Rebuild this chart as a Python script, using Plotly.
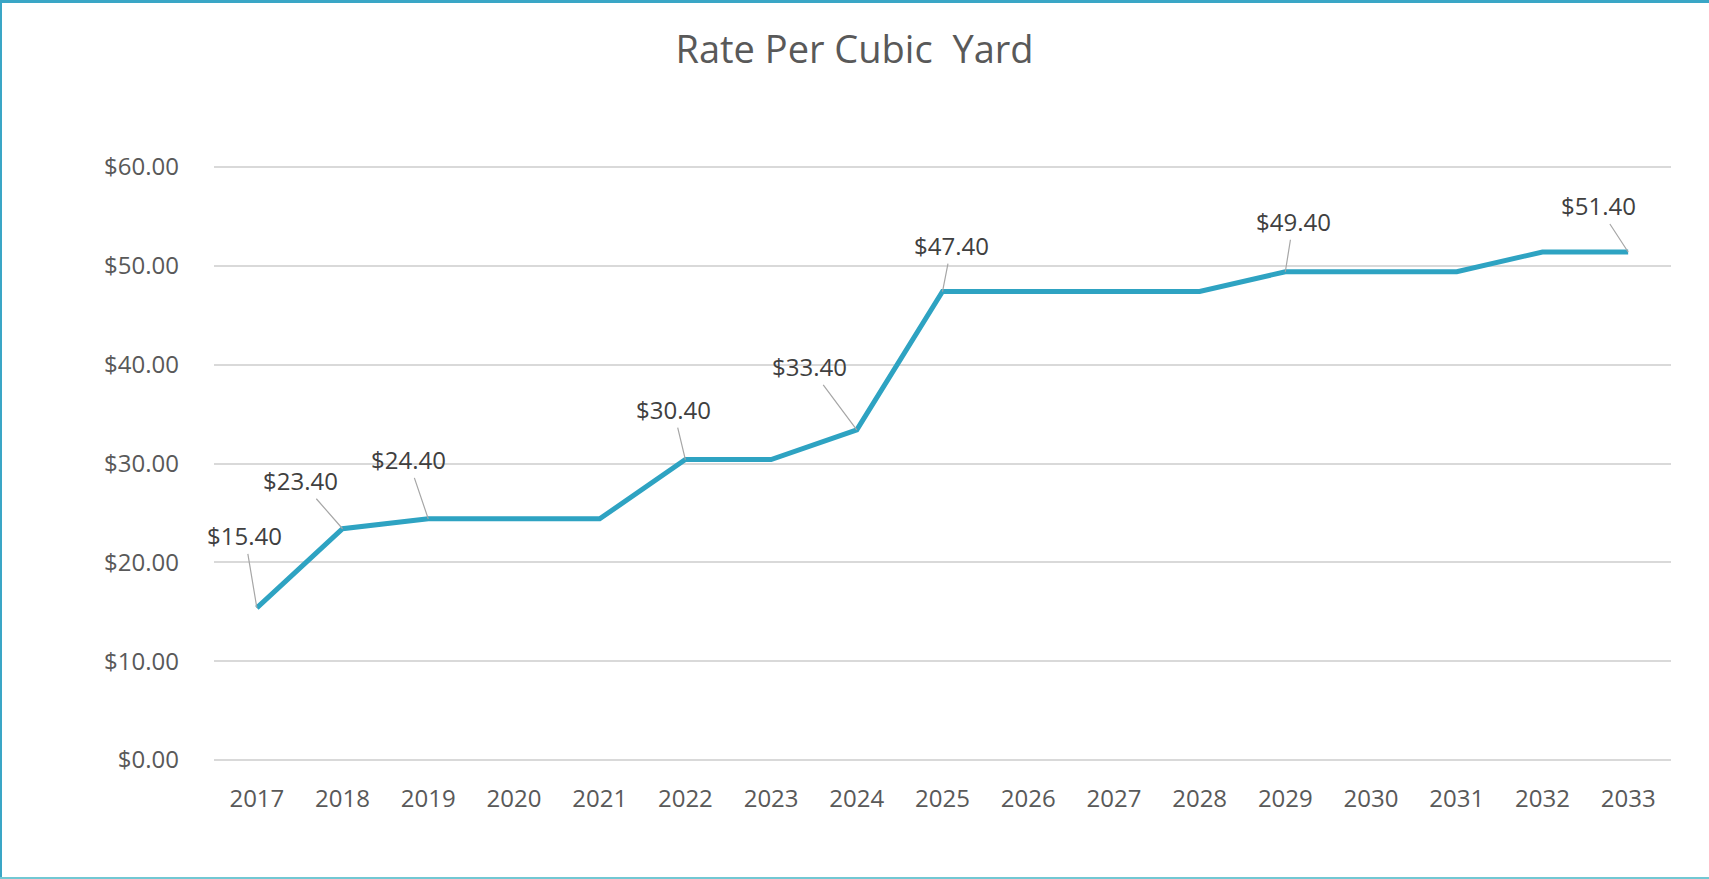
import plotly.graph_objects as go

years = ["2017", "2018", "2019", "2020", "2021", "2022", "2023", "2024", "2025",
         "2026", "2027", "2028", "2029", "2030", "2031", "2032", "2033"]
rates = [15.40, 23.40, 24.40, 24.40, 24.40, 30.40, 30.40, 33.40, 47.40,
         47.40, 47.40, 47.40, 49.40, 49.40, 49.40, 51.40, 51.40]
labelled_years = ["2017", "2018", "2019", "2022", "2024", "2025", "2029", "2033"]
label_offsets = [(-12, -72), (-42, -48), (-20, -59), (-12, -50), (-47, -63),
                 (9, -46), (8, -50), (-30, -46)]
y_ticks = [0, 10, 20, 30, 40, 50, 60]

W, H = 1709, 879
ML, MR, MT, MB = 214, 38, 165, 117
PW, PH = W - ML - MR, H - MT - MB

fig = go.Figure()
fig.add_trace(go.Scatter(
    x=years, y=rates, mode="lines",
    line=dict(color="#2EA3C2", width=5),
    hoverinfo="skip", showlegend=False,
))

font_main = "Open Sans, Noto Sans, sans-serif"
for yr, (dx, dy) in zip(labelled_years, label_offsets):
    idx = years.index(yr)
    v = rates[idx]
    fig.add_annotation(
        x=idx, y=v, text=f"${v:.2f}",
        showarrow=True, arrowhead=0, arrowwidth=1.2, arrowcolor="#A6A6A6",
        ax=dx, ay=dy, standoff=0,
        font=dict(family=font_main, size=24, color="#404040"),
    )

def px_x(p):
    return (p - ML) / PW

def px_y(p):
    return (H - MB - p) / PH

shapes = [
    dict(type="line", xref="paper", yref="paper", x0=px_x(0), x1=px_x(W),
         y0=px_y(1.5), y1=px_y(1.5), line=dict(color="#3AA6C6", width=3)),
    dict(type="line", xref="paper", yref="paper", x0=px_x(1), x1=px_x(1),
         y0=px_y(0), y1=px_y(H), line=dict(color="#3AA6C6", width=2)),
    dict(type="line", xref="paper", yref="paper", x0=px_x(0), x1=px_x(W),
         y0=px_y(H - 1), y1=px_y(H - 1), line=dict(color="#72C8D3", width=2)),
]

fig.update_layout(
    width=W, height=H,
    margin=dict(l=ML, r=MR, t=MT, b=MB),
    paper_bgcolor="white", plot_bgcolor="white",
    title=dict(text="Rate Per Cubic  Yard", x=0.5, xanchor="center",
               y=1 - 50 / H, yanchor="middle", yref="container",
               font=dict(family=font_main, size=38, color="#595959")),
    xaxis=dict(
        type="category", categoryorder="array", categoryarray=years,
        range=[-0.5, len(years) - 0.5],
        showgrid=False, zeroline=False, showline=False,
        ticks="", ticklabelstandoff=20,
        tickfont=dict(family=font_main, size=24, color="#595959"),
    ),
    yaxis=dict(
        range=[-0.2, 60.2], tickvals=y_ticks,
        ticktext=[f"${t:.2f}" for t in y_ticks],
        showgrid=True, gridcolor="#D9D9D9", gridwidth=1.5,
        zeroline=False, showline=False, ticks="", ticklabelstandoff=34,
        tickfont=dict(family=font_main, size=24, color="#595959"),
    ),
    shapes=shapes,
)

fig.write_html("out.html", config={"displayModeBar": False},
               post_script="document.body.style.margin='0px';")
